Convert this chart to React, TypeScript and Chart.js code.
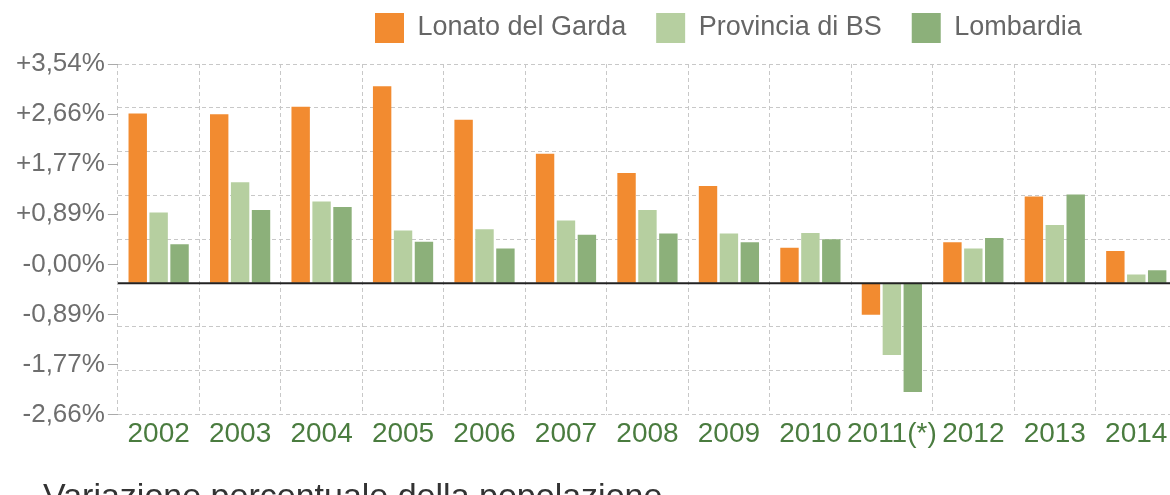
import React, { useEffect, useRef } from 'react';
import { Chart, registerables } from 'chart.js';

Chart.register(...registerables);

const years = ['2002', '2003', '2004', '2005', '2006', '2007', '2008', '2009', '2010', '2011(*)', '2012', '2013', '2014'];
const lonato = [2.74, 2.73, 2.85, 3.18, 2.64, 2.09, 1.78, 1.57, 0.57, -0.51, 0.66, 1.40, 0.52];
const provincia = [1.14, 1.63, 1.32, 0.85, 0.87, 1.01, 1.18, 0.80, 0.81, -1.16, 0.56, 0.94, 0.14];
const lombardia = [0.63, 1.18, 1.23, 0.67, 0.56, 0.78, 0.80, 0.66, 0.71, -1.76, 0.73, 1.43, 0.21];
const yTickLabels = ['+3,54%', '+2,66%', '+1,77%', '+0,89%', '-0,00%', '-0,89%', '-1,77%', '-2,66%'];
const seriesNames = ['Lonato del Garda', 'Provincia di BS', 'Lombardia'];
const seriesColors = ['#F28B30', '#B6CFA0', '#8CB07A'];
const titleText = 'Variazione percentuale della popolazione';

const gridMin = -2.124;
const gridMax = 3.54;
const gridStep = 0.708;

const FONT = "'Liberation Sans', Arial, Helvetica, sans-serif";
const LEGEND_X = 375;
const LEGEND_Y = 13;
const LEGEND_PAD = 30;
const TITLE_X = 43;

const tweakPlugin = {
  id: 'tweak',
  beforeDraw(chart: any) {
    const lg = chart.legend;
    if (lg) {
      const w = lg.right - lg.left;
      lg.left = LEGEND_X - LEGEND_PAD;
      lg.right = lg.left + w;
      lg.top = LEGEND_Y - LEGEND_PAD;
    }
    const tb = chart.titleBlock;
    if (tb) {
      tb.left = TITLE_X;
    }
  },
  afterDatasetsDraw(chart: any) {
    const { ctx, chartArea } = chart;
    const y = chart.scales.y.getPixelForValue(0);
    ctx.save();
    ctx.strokeStyle = '#222';
    ctx.lineWidth = 2;
    ctx.beginPath();
    ctx.moveTo(chartArea.left, y);
    ctx.lineTo(chartArea.right, y);
    ctx.stroke();
    ctx.restore();
  },
};

export default function App() {
  const ref = useRef<HTMLCanvasElement>(null);
  useEffect(() => {
    if (!ref.current) return;
    Chart.defaults.font.family = FONT;
    const values = [lonato, provincia, lombardia];
    const chart = new Chart(ref.current, {
      type: 'bar',
      data: {
        labels: years,
        datasets: values.map((d, i) => ({
          label: seriesNames[i],
          data: d,
          yAxisID: 'y',
          xAxisID: 'x',
          backgroundColor: seriesColors[i],
          borderWidth: 0,
          categoryPercentage: 0.77,
          barPercentage: 0.88,
        })),
      },
      options: {
        animation: false,
        responsive: false,
        devicePixelRatio: 1,
        layout: { padding: { left: 13, right: 3, top: 0, bottom: 0 } },
        plugins: {
          tooltip: { enabled: false },
          legend: {
            position: 'top',
            align: 'start',
            maxHeight: 64,
            labels: {
              boxWidth: 29,
              boxHeight: 30,
              padding: LEGEND_PAD,
              color: '#666',
              font: { size: 27, family: FONT },
            },
          },
          title: {
            display: true,
            text: titleText,
            position: 'bottom',
            align: 'start',
            color: '#333',
            font: { size: 34, weight: 'normal', family: FONT },
            padding: { top: 23, bottom: 0 },
          },
        },
        scales: {
          y: {
            type: 'linear',
            position: 'left',
            min: gridMin,
            max: gridMax,
            ticks: { display: false, stepSize: gridStep },
            grid: { color: '#c8c8c8', drawTicks: false },
            border: { display: false, dash: [4, 3] },
          },
          x: {
            grid: { offset: true, color: '#c8c8c8', drawTicks: false },
            border: { display: false, dash: [4, 3] },
            ticks: {
              color: '#4a7c3f',
              font: { size: 28, family: FONT },
              padding: 3,
              autoSkip: false,
              maxRotation: 0,
            },
          },
          yl: {
            type: 'linear',
            position: 'left',
            min: 0,
            max: 7,
            ticks: {
              stepSize: 1,
              color: '#6e6e6e',
              padding: 3,
              font: { size: 26, family: FONT },
              callback: (v: any) => yTickLabels[7 - Math.round(Number(v))],
            },
            grid: { drawOnChartArea: false, drawTicks: true, tickLength: 10, color: '#aaa' },
            border: { display: false },
          },
        },
      },
      plugins: [tweakPlugin],
    });
    return () => chart.destroy();
  }, []);
  return (
    <div style={{ position: 'absolute', left: 0, top: 0, width: 1180, height: 518, overflow: 'hidden', background: '#fff' }}>
      <canvas ref={ref} width={1180} height={518} />
    </div>
  );
}
